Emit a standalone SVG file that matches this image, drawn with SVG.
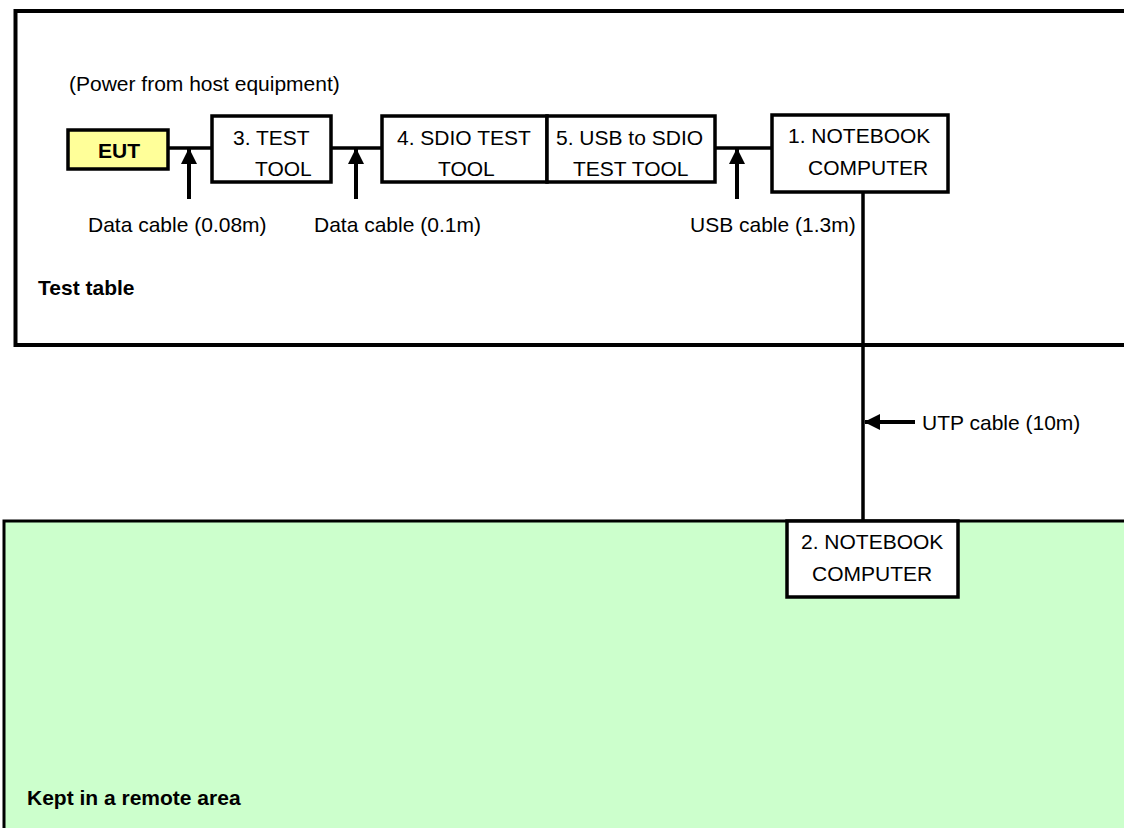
<svg xmlns="http://www.w3.org/2000/svg" width="1124" height="828" viewBox="0 0 1124 828">
<style>
text{font-family:"Liberation Sans",Arial,sans-serif;font-size:21px;fill:#000}
.b{font-weight:bold}
.box{fill:#fff;stroke:#000;stroke-width:3.5}
.ln{stroke:#000;stroke-width:3.5;fill:none}
.ar{stroke:#000;stroke-width:4;fill:none}
</style>
<defs>
<marker id="ah" viewBox="0 0 16 16" refX="15" refY="8" markerWidth="16" markerHeight="16" orient="auto" markerUnits="userSpaceOnUse">
<path d="M0,0 L16,8 L0,16 z" fill="#000"/>
</marker>
</defs>
<rect width="1124" height="828" fill="#fff"/>
<g id="test-table">
<rect x="15.5" y="11" width="1120" height="334" fill="#fff" stroke="#000" stroke-width="4"/>
<text x="38" y="295" class="b">Test table</text>
</g>
<g id="remote-area">
<rect x="4" y="521" width="1130" height="320" fill="#CCFFCC" stroke="#000" stroke-width="3"/>
<text x="27" y="805" class="b">Kept in a remote area</text>
</g>
<text x="69" y="91">(Power from host equipment)</text>
<g id="connectors">
<line class="ln" x1="168" y1="148" x2="212" y2="148"/>
<line class="ln" x1="331" y1="148" x2="382" y2="148"/>
<line class="ln" x1="715" y1="148" x2="772" y2="148"/>
<line class="ln" x1="863" y1="192" x2="863" y2="521"/>
<line class="ar" x1="189" y1="199" x2="189" y2="149" marker-end="url(#ah)"/>
<line class="ar" x1="356" y1="199" x2="356" y2="149" marker-end="url(#ah)"/>
<line class="ar" x1="737" y1="199" x2="737" y2="149" marker-end="url(#ah)"/>
<line class="ar" x1="915" y1="422" x2="865" y2="422" marker-end="url(#ah)"/>
<text x="88" y="232">Data cable (0.08m)</text>
<text x="314" y="232">Data cable (0.1m)</text>
<text x="690" y="232">USB cable (1.3m)</text>
<text x="922" y="430">UTP cable (10m)</text>
</g>
<g id="eut">
<rect x="68" y="130" width="100" height="39" fill="#FFFF99" stroke="#000" stroke-width="3.5"/>
<text x="119" y="158" class="b" text-anchor="middle">EUT</text>
</g>
<g id="test-tool">
<rect class="box" x="212" y="116" width="119" height="66"/>
<text x="233" y="145">3. TEST</text>
<text x="255" y="176">TOOL</text>
</g>
<g id="sdio-test-tool">
<rect class="box" x="382" y="116" width="165" height="66"/>
<text x="397" y="145">4. SDIO TEST</text>
<text x="438" y="176">TOOL</text>
</g>
<g id="usb-sdio-test-tool">
<rect class="box" x="547" y="116" width="168" height="66"/>
<text x="556" y="145">5. USB to SDIO</text>
<text x="573" y="176">TEST TOOL</text>
</g>
<g id="notebook-1">
<rect class="box" x="772" y="115" width="176" height="77"/>
<text x="788" y="143">1. NOTEBOOK</text>
<text x="808" y="175">COMPUTER</text>
</g>
<g id="notebook-2">
<rect class="box" x="787" y="521" width="171" height="76"/>
<text x="801" y="549">2. NOTEBOOK</text>
<text x="812" y="581">COMPUTER</text>
</g>
</svg>
